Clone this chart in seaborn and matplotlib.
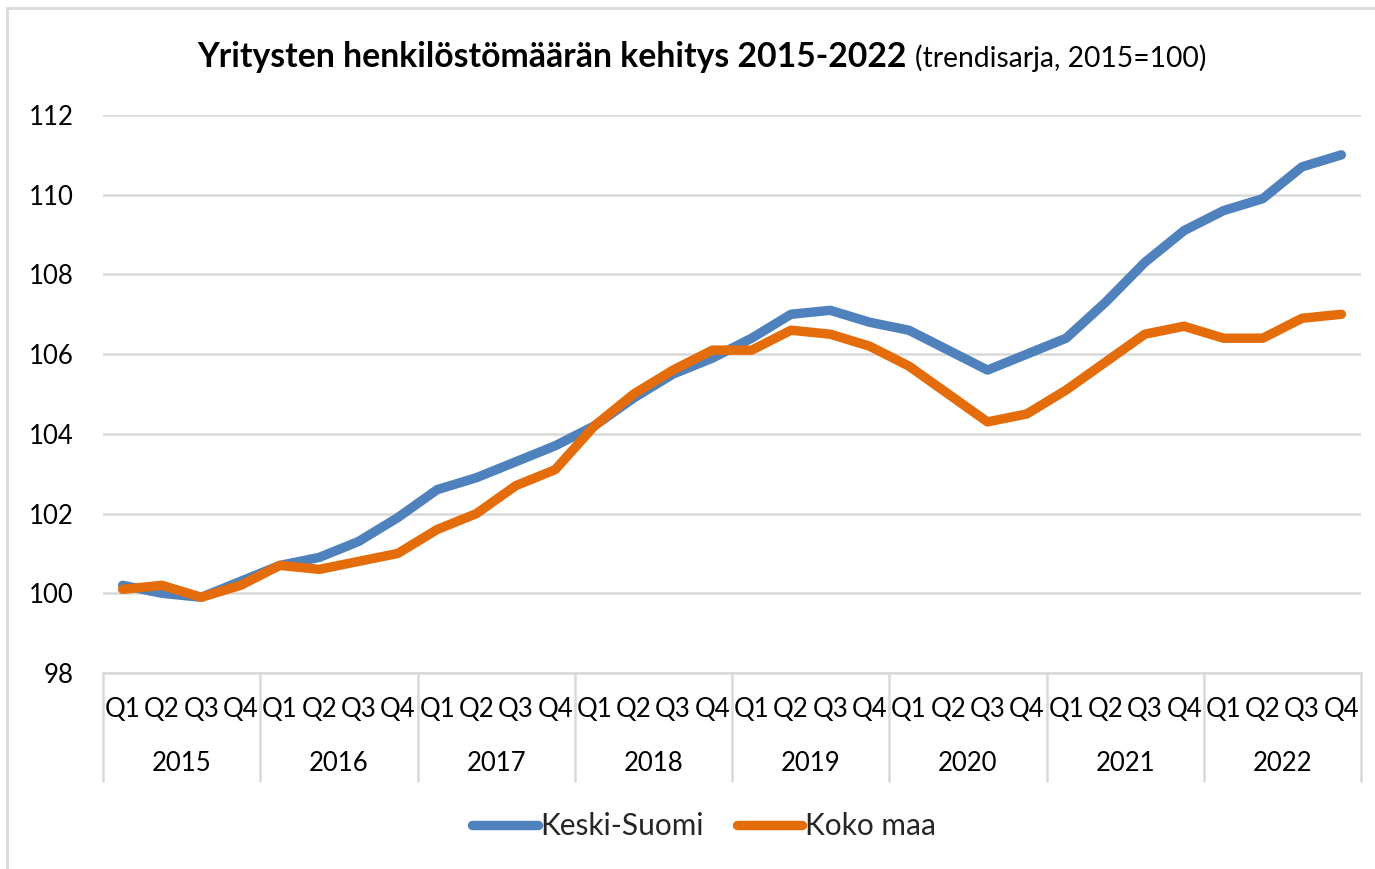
import matplotlib
matplotlib.use("Agg")
import matplotlib.pyplot as plt
import matplotlib.transforms as mtransforms
from matplotlib.patches import Rectangle
from matplotlib.lines import Line2D
import seaborn as sns
import pandas as pd

years = ["2015", "2016", "2017", "2018", "2019", "2020", "2021", "2022"]
quarters = ["Q1", "Q2", "Q3", "Q4"]
series_names = ["Keski-Suomi", "Koko maa"]
keski_suomi = [100.2, 100.0, 99.9, 100.3,
               100.7, 100.9, 101.3, 101.9,
               102.6, 102.9, 103.3, 103.7,
               104.2, 104.9, 105.5, 105.9,
               106.4, 107.0, 107.1, 106.8,
               106.6, 106.1, 105.6, 106.0,
               106.4, 107.3, 108.3, 109.1,
               109.6, 109.9, 110.7, 111.0]
koko_maa = [100.1, 100.2, 99.9, 100.2,
            100.7, 100.6, 100.8, 101.0,
            101.6, 102.0, 102.7, 103.1,
            104.2, 105.0, 105.6, 106.1,
            106.1, 106.6, 106.5, 106.2,
            105.7, 105.0, 104.3, 104.5,
            105.1, 105.8, 106.5, 106.7,
            106.4, 106.4, 106.9, 107.0]
y_ticks = [98, 100, 102, 104, 106, 108, 110, 112]
title_bold = "Yritysten henkilöstömäärän kehitys 2015-2022"
title_normal = "(trendisarja, 2015=100)"

colors = {"Keski-Suomi": "#4F81BD", "Koko maa": "#E46C0A"}
grid_color = "#D9D9D9"

sns.set_style("white")
plt.rcParams["font.family"] = ["Lato", "DejaVu Sans"]

n = len(keski_suomi)
idx = list(range(n))
df = pd.DataFrame({
    "i": idx + idx,
    "value": keski_suomi + koko_maa,
    "series": [series_names[0]] * n + [series_names[1]] * n,
})

fig = plt.figure(figsize=(13.75, 8.69), dpi=100)
ax = fig.add_axes([103 / 1375, 1 - 673 / 869, (1361 - 103) / 1375, (673 - 115) / 869])

sns.lineplot(data=df, x="i", y="value", hue="series", hue_order=series_names,
             palette=colors, linewidth=6.8, ax=ax, legend=False,
             solid_capstyle="round", solid_joinstyle="round")

ax.set_xlim(-0.5, n - 0.5)
ax.set_ylim(98, 112)
ax.set_yticks(y_ticks)
ax.set_yticklabels([str(t) for t in y_ticks])
ax.tick_params(axis="y", length=0, pad=21, labelsize=18.5, labelcolor="black")
ax.set_xticks([])
ax.set_xlabel("")
ax.set_ylabel("")
ax.grid(axis="y", color=grid_color, linewidth=1.8)
ax.set_axisbelow(True)
for s in ["top", "right", "left"]:
    ax.spines[s].set_visible(False)
ax.spines["bottom"].set_color(grid_color)
ax.spines["bottom"].set_linewidth(1.8)

trans = mtransforms.blended_transform_factory(ax.transData, ax.transAxes)
for k in range(n):
    ax.text(k, -0.0663, quarters[k % 4], transform=trans, ha="center", va="center",
            fontsize=18.5, color="black")
for j, yr in enumerate(years):
    ax.text(j * 4 + 1.5, -0.1613, yr, transform=trans, ha="center", va="center",
            fontsize=18.5, color="black")
for j in range(len(years) + 1):
    ax.plot([j * 4 - 0.5, j * 4 - 0.5], [0, -0.1935], transform=trans,
            color=grid_color, linewidth=1.8, clip_on=False)

# title
fig.text(907 / 1375, 1 - 57 / 869, title_bold, ha="right", va="center",
         fontsize=24.3, fontweight="bold", color="black")
fig.text(915 / 1375, 1 - 58 / 869, title_normal, ha="left", va="center",
         fontsize=20.3, color="black")

# legend
handles = [Line2D([0], [0], color=colors[s], linewidth=6.8, solid_capstyle="round")
           for s in series_names]
fig.legend(handles, series_names, loc="center", bbox_to_anchor=(704 / 1375, 1 - 826 / 869),
           ncol=2, frameon=False, fontsize=21.5, handlelength=2.2, handletextpad=0.08,
           columnspacing=1.1)

# chart border
fig.patches.append(Rectangle((7 / 1375, -0.1), 1.2, 1.1 - 8 / 869, transform=fig.transFigure,
                             fill=False, edgecolor=grid_color, linewidth=2))

fig.savefig("out.png", dpi=100, facecolor="white")
